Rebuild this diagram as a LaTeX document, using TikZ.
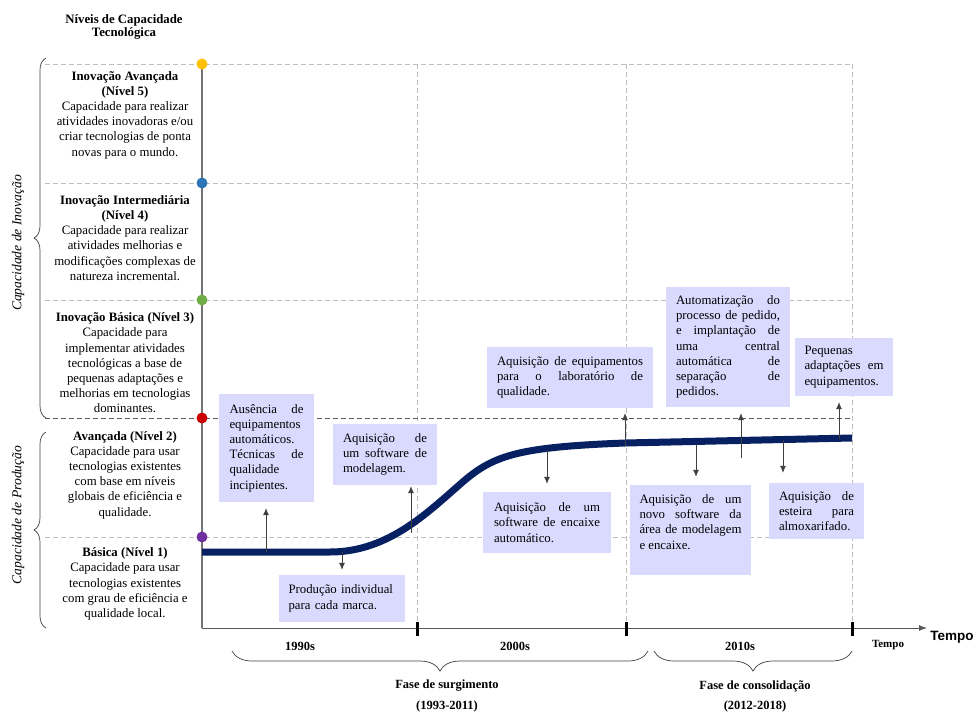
\documentclass[tikz,border=0pt]{standalone}
\usepackage{fontspec}
\setmainfont{Liberation Serif}
\newfontfamily\temposans{Liberation Sans}
\usepackage{tikz}
\usetikzlibrary{arrows.meta,decorations.pathreplacing}
\definecolor{lila}{RGB}{218,218,255}
\definecolor{marinho}{RGB}{6,32,98}
\definecolor{cor5}{RGB}{255,192,0}
\definecolor{cor4}{RGB}{46,117,182}
\definecolor{cor3}{RGB}{112,173,71}
\definecolor{cor2}{RGB}{200,0,0}
\definecolor{cor1}{RGB}{112,48,160}

\begin{document}
\begin{tikzpicture}[x=1pt,y=-1pt,>=Latex,
  texto/.style={font=\fontsize{12.8}{15.2}\selectfont},
  nivel/.style={texto,align=center,inner sep=0pt},
  evento/.style={texto,fill=lila,inner sep=0pt,align=justify,execute at begin node={\hyphenpenalty=10000\tolerance=10000\relax}},
  ponto/.style={circle,inner sep=0pt,minimum size=11pt},
  grade/.style={draw=black!25,dash pattern=on 5pt off 3pt,line width=0.9pt},
  seta/.style={-{Latex[length=7pt,width=6pt]},draw=black!75,line width=0.7pt,shorten >=6pt},
  chave/.style={decorate,draw=black!75,line width=0.7pt},
  rotulo/.style={texto,font=\fontsize{12.5}{15}\selectfont\bfseries,inner sep=0pt}]
\useasboundingbox (0,0) rectangle (978,713);

% grade pontilhada
\foreach \y in {64,183,300,537} \draw[grade] (45,\y) -- (852,\y);
\foreach \x in {417,626,852} \draw[grade] (\x,64) -- (\x,628);
\draw[draw=black!65,dash pattern=on 5pt off 3pt,line width=0.9pt] (45,418) -- (852,418);

% eixos
\coordinate (origem) at (202,628);
\coordinate (fimx) at (927,628);
\coordinate (topo) at (202,64);
\draw[draw=black!55,line width=1.2pt] (topo) -- (origem);
\draw[-{Latex[length=8pt,width=6pt]},draw=black!65,line width=0.9pt] (origem) -- (fimx);
\foreach \x in {417,626,852} \draw[line width=3pt] (\x,622) -- (\x,636);
\node[rotulo,font=\fontsize{11}{13}\selectfont\bfseries] (tempo) at (888,645) {Tempo};
\node[font=\fontsize{13.5}{15}\selectfont\temposans\bfseries,inner sep=0pt] (tempox) at (952,637) {Tempo};

% niveis
\node[ponto,fill=cor5] (p5) at (202,64) {};
\node[ponto,fill=cor4] (p4) at (202,183) {};
\node[ponto,fill=cor3] (p3) at (202,300) {};
\node[ponto,fill=cor2] (p2) at (202,418) {};
\node[ponto,fill=cor1] (p1) at (202,537) {};

\node[nivel,font=\fontsize{12.8}{13.5}\selectfont\bfseries] (titulo) at (124,27) {Níveis de Capacidade\\Tecnológica};
\node[nivel] (n5) at (125,115) {\textbf{Inovação Avançada}\\\textbf{(Nível 5)}\\Capacidade para realizar\\atividades inovadoras e/ou\\criar tecnologias de ponta\\novas para o mundo.};
\node[nivel] (n4) at (125,238) {\textbf{Inovação Intermediária}\\\textbf{(Nível 4)}\\Capacidade para realizar\\atividades melhorias e\\modificações complexas de\\natureza incremental.};
\node[nivel] (n3) at (125,363) {\textbf{Inovação Básica (Nível 3)}\\Capacidade para\\implementar atividades\\tecnológicas a base de\\pequenas adaptações e\\melhorias em tecnologias\\dominantes.};
\node[nivel] (n2) at (125,475) {\textbf{Avançada (Nível 2)}\\Capacidade para usar\\tecnologias existentes\\com base em níveis\\globais de eficiência e\\qualidade.};
\node[nivel] (n1) at (125,584) {\textbf{Básica (Nível 1)}\\Capacidade para usar\\tecnologias existentes\\com grau de eficiência e\\qualidade local.};

\draw[chave,decoration={brace,amplitude=12pt}] (46,418) -- (46,58);
\draw[chave,decoration={brace,amplitude=12pt}] (46,628) -- (46,432);
\node[texto,font=\fontsize{13.6}{15}\selectfont\itshape,rotate=90,inner sep=0pt] (inov) at (18,243) {Capacidade de Inovação};
\node[texto,font=\fontsize{13.6}{15}\selectfont\itshape,rotate=90,inner sep=0pt] (prod) at (18,515) {Capacidade de Produção};

% trajetoria
\draw[marinho,line width=7pt,line join=round] (202,552) -- (330,552) .. controls (390,552) and (430,510) .. (465,480) .. controls (495,455) and (520,447) .. (625,443) -- (852,438);

\coordinate (c1) at (266,552);
\coordinate (c2) at (411,533);
\coordinate (c3) at (342,552);
\coordinate (c4) at (625,446);
\coordinate (c5) at (547,450);
\coordinate (c6) at (741,458);
\coordinate (c7) at (839,439);
\coordinate (c8) at (696,444);
\coordinate (c9) at (783,440);

% eventos
\node[evento,text width=74pt,minimum width=95pt,minimum height=108pt] (b1) at (266.5,448) {Ausência de\linebreak equipamentos\linebreak automáticos.\linebreak Técnicas de\linebreak qualidade\linebreak incipientes.};
\node[evento,text width=84pt,minimum width=104pt,minimum height=61pt] (b2) at (385,454.5) {Aquisição de\linebreak um software de\linebreak modelagem.};
\node[evento,text width=107pt,minimum width=126pt,minimum height=47pt,align=left] (b3) at (342,598.5) {Produção individual\\para cada marca.};
\node[evento,text width=146pt,minimum width=166pt,minimum height=61pt] (b4) at (570,377.5) {Aquisição de equipamentos\linebreak para o laboratório de\linebreak qualidade.};
\node[evento,text width=106pt,minimum width=128pt,minimum height=61pt] (b5) at (547,522.5) {Aquisição de um\linebreak software de encaixe\linebreak automático.};
\node[evento,text width=104pt,minimum width=124pt,minimum height=120pt] (b6) at (728,347) {Automatização do\linebreak processo de pedido,\linebreak e implantação de\linebreak uma central\linebreak automática de\linebreak separação de\linebreak pedidos.};
\node[evento,text width=79pt,minimum width=98pt,minimum height=58pt] (b7) at (844,367) {Pequenas\\adaptações em\linebreak equipamentos.};
\node[evento,text width=102pt,minimum width=121pt,minimum height=90pt] (b8) at (690.5,530) {Aquisição de um\linebreak novo software da\linebreak área de modelagem\linebreak e encaixe.\\[1pt]\mbox{}};
\node[evento,text width=75pt,minimum width=95pt,minimum height=56pt] (b9) at (816.5,511) {Aquisição de\linebreak esteira para\linebreak almoxarifado.};

\draw[seta] (c1) -- (c1 |- b1.south);
\draw[seta,shorten >=1pt] (c2) -- (c2 |- b2.south);
\draw[seta,shorten >=5pt] (c3) -- (c3 |- b3.north);
\draw[seta,shorten >=5pt] (c4) -- (c4 |- b4.south);
\draw[seta,shorten >=8pt] (c5) -- (c5 |- b5.north);
\draw[seta] (c6) -- (c6 |- b6.south);
\draw[seta] (c7) -- (c7 |- b7.south);
\draw[seta,shorten >=8pt] (c8) -- (c8 |- b8.north);
\draw[seta,shorten >=10pt] (c9) -- (c9 |- b9.north);

% decadas e fases
\node[rotulo] (d90) at (300,646) {1990s};
\node[rotulo] (d00) at (515,646) {2000s};
\node[rotulo] (d10) at (740,646) {2010s};
\draw[chave,decoration={brace,mirror,amplitude=20pt}] (232,651) -- (648,651);
\draw[chave,decoration={brace,mirror,amplitude=20pt}] (654,651) -- (852,651);
\node[rotulo] (f1) at (447,686) {Fase de surgimento};
\node[rotulo] (a1) at (447,706) {(1993-2011)};
\node[rotulo] (f2) at (755,686) {Fase de consolidação};
\node[rotulo] (a2) at (755,706) {(2012-2018)};
\end{tikzpicture}
\end{document}
